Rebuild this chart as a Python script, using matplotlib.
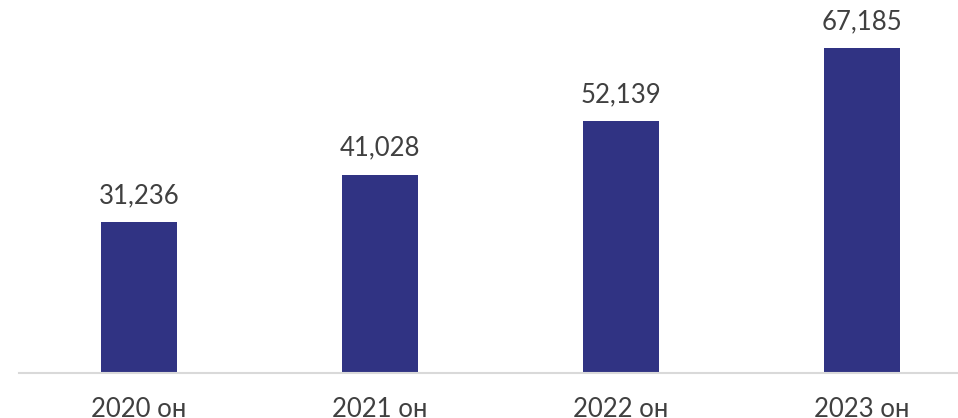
import matplotlib
matplotlib.use("Agg")
import matplotlib.pyplot as plt

categories = ["2020 он", "2021 он", "2022 он", "2023 он"]
values = [31236, 41028, 52139, 67185]
labels = ["31,236", "41,028", "52,139", "67,185"]

bar_color = "#303383"
text_color = "#404040"

plt.rcParams['font.family'] = ['Lato', 'DejaVu Sans']

fig = plt.figure(figsize=(9.58, 4.18), dpi=100)
# axes runs a bit past the right edge, like the original
ax = fig.add_axes([18.5 / 958, 45 / 418, 964 / 958, 336 / 418])

x = range(len(categories))
bars = ax.bar(x, values, width=0.315, color=bar_color)

for b, lab in zip(bars, labels):
    ax.annotate(lab, (b.get_x() + b.get_width() / 2, b.get_height()),
                xytext=(0, 10), textcoords="offset points",
                ha="center", va="bottom", fontsize=18.5, color=text_color)

ax.set_xlim(-0.5, 3.5)
ax.set_ylim(0, 69500)
ax.set_xticks(list(x))
ax.set_xticklabels(categories, fontsize=18.5, color=text_color)
ax.tick_params(axis="x", length=0, pad=17)
ax.set_yticks([])
for s in ["top", "right", "left"]:
    ax.spines[s].set_visible(False)
ax.spines["bottom"].set_color("#d9d9d9")
ax.spines["bottom"].set_linewidth(1.5)

fig.savefig("out.png", dpi=100)
